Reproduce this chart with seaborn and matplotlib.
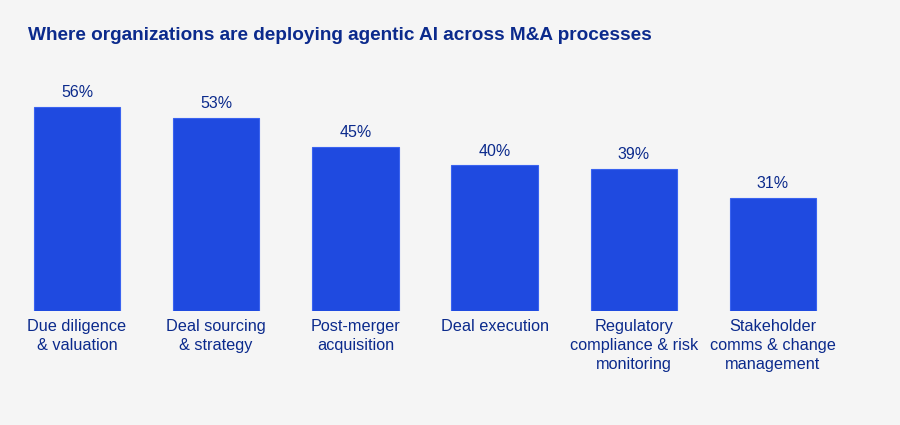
import matplotlib
matplotlib.use("Agg")
import matplotlib.pyplot as plt
import seaborn as sns
import pandas as pd

# ── data ──
categories = [
    "Due diligence\n& valuation",
    "Deal sourcing\n& strategy",
    "Post-merger\nacquisition",
    "Deal execution",
    "Regulatory\ncompliance & risk\nmonitoring",
    "Stakeholder\ncomms & change\nmanagement",
]
shares = [56, 53, 45, 40, 39, 31]

bg = "#f5f5f5"
bar_color = "#1f4ae0"
navy = "#0b2a8c"

sns.set_style("white")
plt.rcParams['font.family'] = ['Liberation Sans', 'DejaVu Sans']

df = pd.DataFrame({"category": categories, "share": shares})

fig = plt.figure(figsize=(9, 4.25), dpi=100, facecolor=bg)
ax = fig.add_axes([0.0082, 0.268, 0.928, 0.514])
ax.set_facecolor(bg)

sns.barplot(data=df, x="category", y="share", color=bar_color,
            width=0.62, saturation=1, ax=ax,
            edgecolor="#3a63f0", linewidth=0.8)

ax.set_xlim(-0.5, 5.5)
ax.set_ylim(0, 60)

# value labels
for i, v in enumerate(shares):
    ax.annotate(f"{v}%", (i, v), xytext=(0, 5), textcoords="offset points",
                ha="center", va="bottom", fontsize=11.5, color=navy)

ax.set_xlabel("")
ax.set_ylabel("")
ax.set_yticks([])
ax.tick_params(axis="x", length=0, pad=6, labelsize=11.7, labelcolor=navy)
for lbl in ax.get_xticklabels():
    lbl.set_ha("center")
    lbl.set_multialignment("center")
    lbl.set_linespacing(1.32)
sns.despine(ax=ax, left=True, bottom=True)

fig.text(0.031, 0.905, "Where organizations are deploying agentic AI across M&A processes",
         fontsize=13.7, fontweight="bold", color=navy, va="baseline")

fig.savefig("out.png", dpi=100, facecolor=bg)
